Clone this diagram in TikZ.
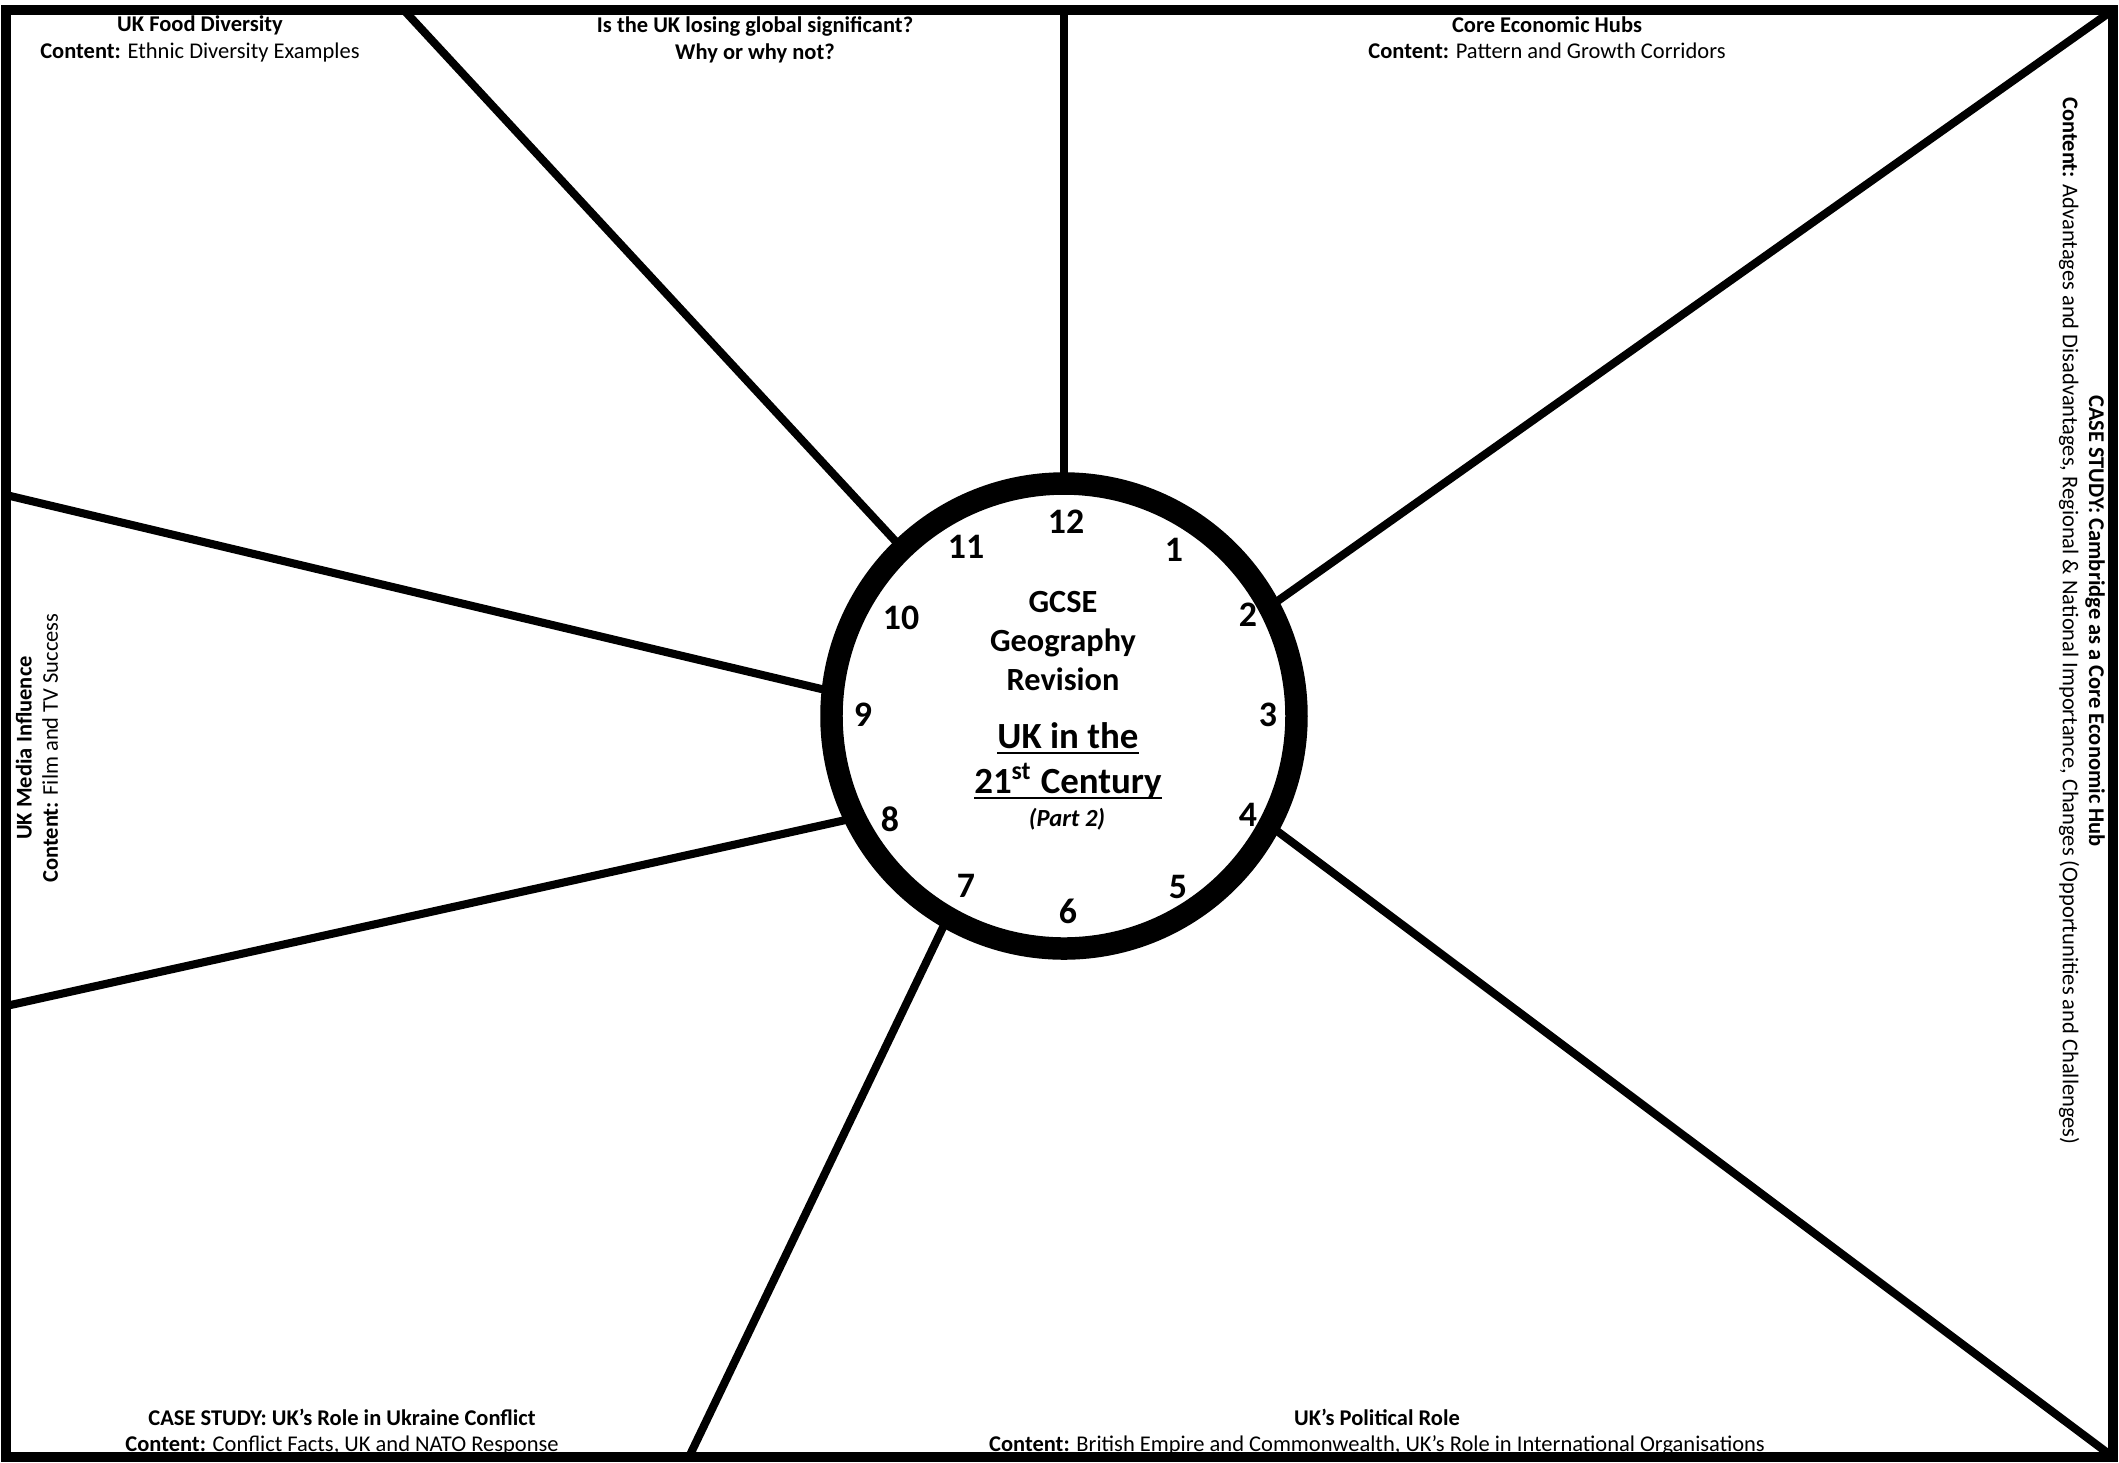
\documentclass[tikz,border=0pt]{standalone}
\usepackage{fontspec}
\setmainfont{Carlito}
\newcommand{\ulbar}[1]{\underline{\smash{#1}}}
\begin{document}
\begin{tikzpicture}[
  spoke/.style={line width=2.3pt},
  topic/.style={font=\fontsize{6.4}{7.5}\selectfont, align=center, inner sep=0pt},
  hour/.style={font=\fontsize{10.2}{12}\selectfont\bfseries, inner sep=0pt}
]
  \useasboundingbox (-10.64, 7.16) rectangle (10.55, -7.46);

  % -- Clock face --
  \node[circle, draw, fill=white, line width=6.4pt, minimum size=4.65cm, inner sep=0pt, outer sep=0pt] (clock) at (0, 0) {};

  % -- Spokes out to the frame --
  \coordinate (c12) at (0, 7.06);
  \coordinate (c11) at (-6.62, 7.08);
  \coordinate (c2) at (10.49, 7.06);
  \coordinate (c4) at (10.49, -7.41);
  \coordinate (c7) at (-3.75, -7.41);
  \coordinate (c8) at (-10.58, -2.90);
  \coordinate (c10) at (-10.58, 2.21);
  \draw[spoke] (c12) -- (clock.90);
  \draw[spoke] (c11) -- (clock.134);
  \draw[spoke] (c2) -- (clock.28.6);
  \draw[spoke] (c4) -- (clock.-28.4);
  \draw[spoke] (c7) -- (clock.240.5);
  \draw[spoke] (c8) -- (clock.206.3);
  \draw[spoke] (c10) -- (clock.174.5);

  % -- Hours --
  \node[hour] (h12) at (0.02, 1.94) {12};
  \node[hour] (h1) at (1.10, 1.66) {1};
  \node[hour] (h2) at (1.84, 1.01) {2};
  \node[hour] (h3) at (2.04, 0.01) {3};
  \node[hour] (h4) at (1.84, -0.99) {4};
  \node[hour] (h5) at (1.14, -1.71) {5};
  \node[hour] (h6) at (0.04, -1.95) {6};
  \node[hour] (h7) at (-0.98, -1.70) {7};
  \node[hour] (h8) at (-1.74, -1.03) {8};
  \node[hour] (h9) at (-2.01, 0.01) {9};
  \node[hour] (h10) at (-1.63, 0.98) {10};
  \node[hour] (h11) at (-0.98, 1.69) {11};

  % -- Centre title --
  \node[align=center, inner sep=0pt, font=\fontsize{9.2}{11.1}\selectfont\bfseries] (gcse) at (-0.01, 0.75) {GCSE\\Geography\\Revision};
  \node[align=center, inner sep=0pt, font=\fontsize{10.5}{12.8}\selectfont\bfseries] (unit) at (0.04, -0.58) {\ulbar{UK in the}\\\ulbar{21\textsuperscript{st} Century}};
  \node[inner sep=0pt] (partno) at (0.03, -1.03) {\fontsize{7}{8}\selectfont\bfseries\itshape (Part 2)};

  % -- Topic labels round the edge --
  \node[topic] (food) at (-8.64, 6.77) {\textbf{UK Food Diversity}\\\textbf{Content:} Ethnic Diversity Examples};
  \node[topic] (losing) at (-3.09, 6.76) {\textbf{Is the UK losing global significant?}\\\textbf{Why or why not?}};
  \node[topic] (hubs) at (4.83, 6.78) {\textbf{Core Economic Hubs}\\\textbf{Content:} Pattern and Growth Corridors};
  \node[topic, rotate=-90] (cambridge) at (10.18, 0.95) {\textbf{CASE STUDY: Cambridge as a Core Economic Hub}\\\textbf{Content:} Advantages and Disadvantages, Regional \& National Importance, Changes (Opportunities and Challenges)};
  \node[topic] (political) at (3.13, -7.16) {\textbf{UK’s Political Role}\\\textbf{Content:} British Empire and Commonwealth, UK’s Role in International Organisations};
  \node[topic] (ukraine) at (-7.22, -7.16) {\textbf{CASE STUDY: UK’s Role in Ukraine Conflict}\\\textbf{Content:} Conflict Facts, UK and NATO Response};
  \node[topic, rotate=90] (media) at (-10.27, -0.32) {\textbf{UK Media Influence}\\\textbf{Content:} Film and TV Success};

  % -- Frame --
  \draw[line width=2.8pt] (-10.58, 7.06) rectangle (10.49, -7.41);

\end{tikzpicture}
\end{document}
